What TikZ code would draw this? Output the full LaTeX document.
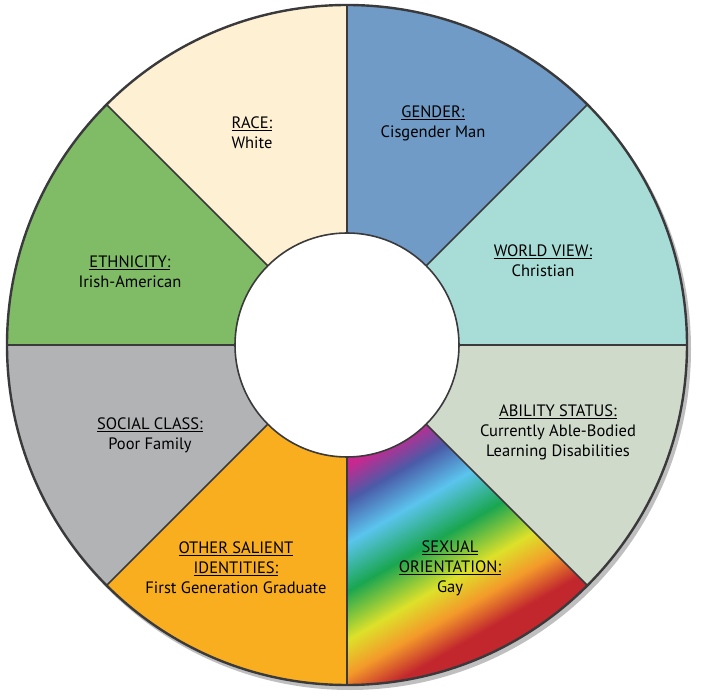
\documentclass[tikz,border=0pt]{standalone}
\usepackage{fontspec}
\setmainfont{PT Sans}
\definecolor{cgen}{HTML}{6F9BC6}
\definecolor{cwv}{HTML}{A8DCD6}
\definecolor{cab}{HTML}{CFDACB}
\definecolor{coth}{HTML}{F9AE1F}
\definecolor{csoc}{HTML}{B2B3B5}
\definecolor{ceth}{HTML}{80BC66}
\definecolor{crace}{HTML}{FEF0D2}
\definecolor{edge}{HTML}{3A3A3C}
\definecolor{rmag}{HTML}{C8288F}
\definecolor{rblu}{HTML}{4A5BA8}
\definecolor{rcya}{HTML}{5BC4EE}
\definecolor{rgre}{HTML}{1AA650}
\definecolor{ryel}{HTML}{DDE12A}
\definecolor{rora}{HTML}{F39A2A}
\definecolor{rred}{HTML}{C2272D}
\pgfdeclarehorizontalshading{rainbowsh}{100bp}{color(0bp)=(rmag);color(33bp)=(rmag);color(38bp)=(rblu);color(44bp)=(rcya);color(51bp)=(rgre);color(58bp)=(ryel);color(63bp)=(rora);color(68bp)=(rred);color(100bp)=(rred)}
\tikzset{lbl/.style={align=center,font=\fontsize{16.5}{20}\selectfont},
 sect/.style={draw=edge,line width=1.6pt}}
\newcommand{\sector}[3]{\path[#3] (0,0) -- (#1:340) arc[start angle=#1,end angle=#2,radius=340] -- cycle;}
\begin{document}
\begin{tikzpicture}[x=1pt,y=1pt]
\useasboundingbox (-347,-355) rectangle (356,345);
\fill[black!25] (3,-4) circle (341);
\sector{45}{90}{fill=cgen}
\sector{0}{45}{fill=cwv}
\sector{-45}{0}{fill=cab}
\sector{-90}{-45}{shading=rainbowsh,shading angle=-60}
\sector{-135}{-90}{fill=coth}
\sector{-180}{-135}{fill=csoc}
\sector{135}{180}{fill=ceth}
\sector{90}{135}{fill=crace}
\foreach \a in {0,45,...,315} \draw[edge,line width=1.6pt] (0,0) -- (\a:340);
\draw[edge,line width=2.4pt] (0,0) circle (340);
\fill[white] (0,0) circle (112);
\draw[edge,line width=1.6pt] (0,0) circle (112);
\node[lbl] (race) at (-95,212) {\underline{RACE:}\\White};
\node[lbl] (gen) at (86,222) {\underline{GENDER:}\\Cisgender Man};
\node[lbl] (wv) at (196,84) {\underline{WORLD VIEW:}\\Christian};
\node[lbl] (ab) at (211,-87) {\underline{ABILITY STATUS:}\\Currently Able-Bodied\\Learning Disabilities};
\node[lbl] (sex) at (103,-223) {\underline{SEXUAL}\\\underline{ORIENTATION:}\\Gay};
\node[lbl] (oth) at (-111,-223) {\underline{OTHER SALIENT}\\\underline{IDENTITIES:}\\First Generation Graduate};
\node[lbl] (soc) at (-197,-90) {\underline{SOCIAL CLASS:}\\Poor Family};
\node[lbl] (eth) at (-217,73) {\underline{ETHNICITY:}\\Irish-American};
\end{tikzpicture}
\end{document}
